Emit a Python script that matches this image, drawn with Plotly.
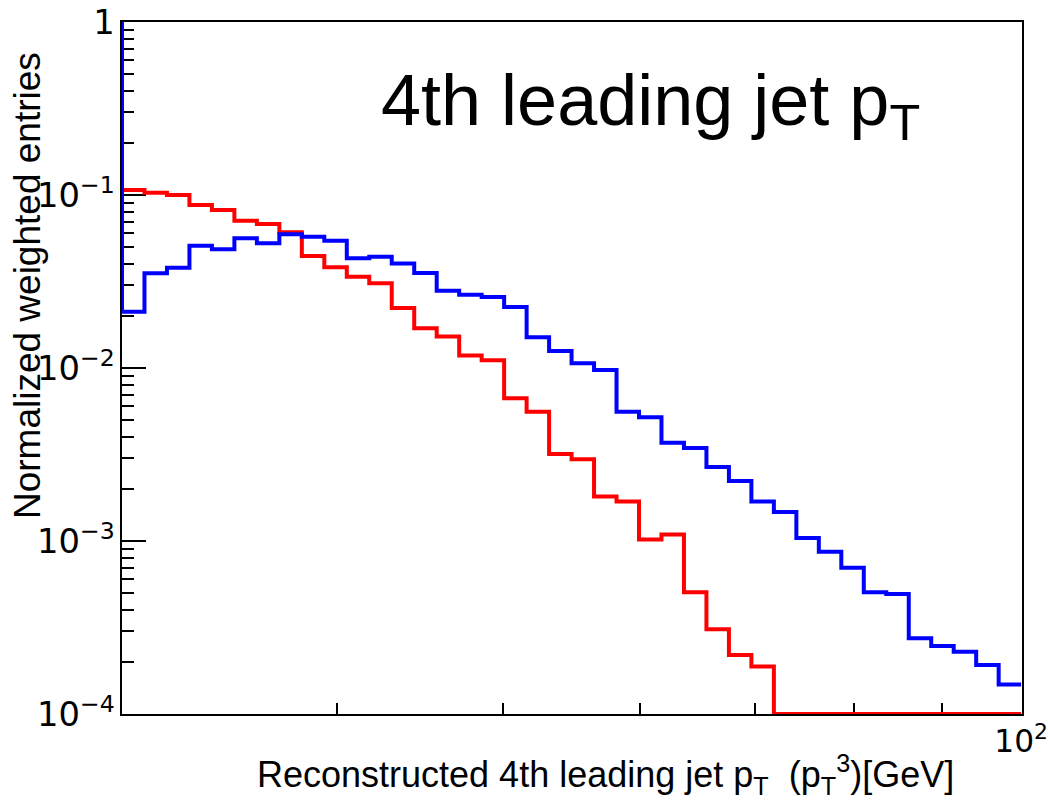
import numpy as np
import plotly.graph_objects as go

# Binning: 40 log-spaced bins between 30 and 100 GeV
x_min, x_max, n_bins = 30.0, 100.0, 40
bin_edges = np.geomspace(x_min, x_max, n_bins + 1)

# Blue histogram (left edge rises to top of frame)
blue_left_edge = 1.0
blue_values = [
    0.02115, 0.03527, 0.03801, 0.05090, 0.04854, 0.05620, 0.05257, 0.05928,
    0.05741, 0.05441, 0.04307, 0.04400, 0.04018, 0.03541, 0.02797, 0.02653,
    0.02573, 0.02253, 0.01505, 0.01254, 0.01064, 0.00974, 0.00559, 0.00519,
    0.00370, 0.00345, 0.00268, 0.00222, 0.00169, 0.00147, 0.00104, 0.000868,
    0.000701, 0.000505, 0.000494, 0.000274, 0.000247, 0.000229, 0.000192, 0.000148,
]

# Red histogram
red_values = [
    0.1069, 0.1031, 0.1000, 0.0876, 0.0819, 0.0710, 0.0680, 0.0609,
    0.0444, 0.0382, 0.0337, 0.0309, 0.0222, 0.0170, 0.0152, 0.0118,
    0.01108, 0.00668, 0.00559, 0.00318, 0.00297, 0.00181, 0.00169, 0.00102,
    0.00109, 0.000505, 0.000309, 0.000219, 0.000188, 0.0, 0.0, 0.0,
    0.0, 0.0, 0.0, 0.0, 0.0, 0.0, 0.0, 0.0,
]

y_min, y_max = 1e-4, 1.0

title_text = "4th leading jet p<sub>T</sub>"
x_title = "Reconstructed 4th leading jet p<sub>T</sub>  (p<sub>T</sub><sup>3</sup>)[GeV]"
y_title = "Normalized weighted entries"


def step_xy(values, left_start=None):
    vals = [max(v, y_min) for v in values]
    xs = list(bin_edges)
    ys = vals + [vals[-1]]
    if left_start is not None:
        xs = [bin_edges[0]] + xs
        ys = [left_start] + ys
    return xs, ys


fig = go.Figure()
bx, by = step_xy(blue_values, blue_left_edge)
rx, ry = step_xy(red_values)
fig.add_trace(go.Scatter(x=rx, y=ry, mode="lines", line=dict(color="#ff0000", width=4, shape="hv"),
                         showlegend=False, hoverinfo="skip"))
fig.add_trace(go.Scatter(x=bx, y=by, mode="lines", line=dict(color="#0000ff", width=4, shape="hv"),
                         showlegend=False, hoverinfo="skip"))

x_tick_font = dict(family="DejaVu Sans", size=25, color="black")
y_tick_font = dict(family="DejaVu Sans", size=27, color="black")
text_font = "Liberation Sans, Arial, sans-serif"

fig.update_layout(
    width=1048, height=811,
    margin=dict(l=122, r=26, t=22, b=97, autoexpand=False),
    paper_bgcolor="white", plot_bgcolor="white",
    showlegend=False,
    xaxis=dict(
        type="log", range=[np.log10(x_min), np.log10(x_max) + 0.0005],
        automargin=False,
        showline=True, linecolor="black", linewidth=1.5, mirror=True,
        ticks="inside", ticklen=22, tickcolor="black", tickwidth=1.5,
        dtick=1, exponentformat="power", showexponent="all",
        tickfont=x_tick_font, showgrid=False, zeroline=False, layer="below traces",
        minor=dict(ticks="inside", ticklen=11, tickcolor="black", tickwidth=1.5, dtick="D1", showgrid=False),
    ),
    yaxis=dict(
        type="log", range=[np.log10(y_min), np.log10(y_max)],
        automargin=False,
        showline=True, linecolor="black", linewidth=1.5, mirror=True,
        ticks="inside", ticklen=24, tickcolor="black", tickwidth=1.5,
        dtick=1, exponentformat="power", showexponent="all",
        tickfont=y_tick_font, showgrid=False, zeroline=False, layer="below traces",
        minor=dict(ticks="inside", ticklen=12, tickcolor="black", tickwidth=1.5, dtick="D1", showgrid=False),
    ),
    annotations=[
        dict(text=title_text, xref="paper", yref="paper", x=0.2856, y=0.88,
             xanchor="left", yanchor="middle", showarrow=False,
             font=dict(family=text_font, size=72, color="black")),
        dict(text=x_title, xref="paper", yref="paper", x=0.5367, y=-0.088,
             xanchor="center", yanchor="middle", showarrow=False,
             font=dict(family=text_font, size=36, color="black")),
        dict(text=y_title, xref="paper", yref="paper", x=-0.1044, y=0.6185,
             xanchor="center", yanchor="middle", showarrow=False, textangle=-90,
             font=dict(family=text_font, size=37, color="black")),
    ],
)

fig.write_html("out.html")
